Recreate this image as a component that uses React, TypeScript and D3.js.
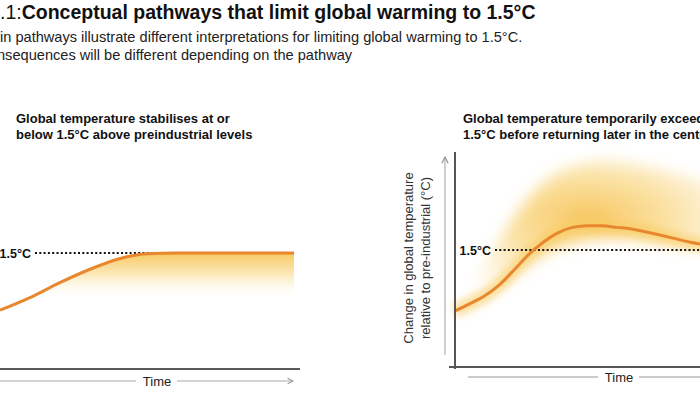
import React, { useEffect, useRef } from "react";
import * as d3 from "d3";

// headline + panel captions
const titlePrefix = ".1:";
const titleMain = "Conceptual pathways that limit global warming to 1.5°C";
const introLines = [
  "in pathways illustrate different interpretations for limiting global warming to 1.5°C.",
  "nsequences will be different depending on the pathway",
];
const leftCaption = ["Global temperature stabilises at or", "below 1.5°C above preindustrial levels"];
const rightCaption = ["Global temperature temporarily exceeds", "1.5°C before returning later in the century"];
const yAxisLabel = ["Change in global temperature", "relative to pre-industrial (°C)"];
const limitLabel = "1.5°C";
const timeLabel = "Time";
const limitTemp = 1.5;

// pathway 1: stabilises at 1.5
const stabiliseTimes = [0, 10, 20, 30, 40, 50, 60, 70, 80, 90, 100];
const stabiliseTemps = [0.76, 0.92, 1.11, 1.28, 1.42, 1.49, 1.5, 1.5, 1.5, 1.5, 1.5];
const stabiliseFloor = 0.93;

// pathway 2: overshoot then return
const overshootTimes = [0, 5, 10, 15, 20, 25, 30, 35, 40, 45, 50, 55, 60, 70, 80, 90, 100];
const overshootTemps = [0.72, 0.81, 0.91, 1.05, 1.24, 1.44, 1.6, 1.72, 1.79, 1.81, 1.81, 1.79, 1.77, 1.69, 1.6, 1.54, 1.5];
const glowTimes = [0, 10, 20, 30, 40, 50, 60, 70, 80, 90, 100];
const glowUpper = [0.74, 1.3, 1.95, 2.4, 2.6, 2.66, 2.62, 2.54, 2.44, 2.3, 2.16];
const glowLower = [0.68, 0.84, 1.1, 1.44, 1.6, 1.66, 1.64, 1.57, 1.5, 1.46, 1.43];

const ORANGE = "#E9872F";
const FONT = "'Liberation Sans', Arial, sans-serif";

export default function App() {
  const ref = useRef<SVGSVGElement>(null);

  useEffect(() => {
    if (!ref.current) return;
    const width = 700;
    const height = 394;
    const svg = d3.select(ref.current);
    svg.selectAll("*").remove();
    svg.attr("width", width).attr("height", height).style("font-family", FONT);

    const defs = svg.append("defs");
    const fillGrad = defs
      .append("linearGradient")
      .attr("id", "stabFill")
      .attr("gradientUnits", "userSpaceOnUse")
      .attr("x1", 0).attr("x2", 0).attr("y1", 253).attr("y2", 299);
    fillGrad.append("stop").attr("offset", 0).attr("stop-color", "#F7C24C").attr("stop-opacity", 0.9);
    fillGrad.append("stop").attr("offset", 0.45).attr("stop-color", "#FADD96").attr("stop-opacity", 0.7);
    fillGrad.append("stop").attr("offset", 1).attr("stop-color", "#ffffff").attr("stop-opacity", 0);

    // radial glow centred over the peak of the overshoot
    const glowGrad = defs
      .append("radialGradient")
      .attr("id", "glowFill")
      .attr("gradientUnits", "userSpaceOnUse")
      .attr("cx", 588).attr("cy", 218).attr("r", 200)
      .attr("gradientTransform", "translate(0,218) scale(1,0.5) translate(0,-218)");
    glowGrad.append("stop").attr("offset", 0).attr("stop-color", "#F6C050").attr("stop-opacity", 0.92);
    glowGrad.append("stop").attr("offset", 0.4).attr("stop-color", "#F9D782").attr("stop-opacity", 0.75);
    glowGrad.append("stop").attr("offset", 0.75).attr("stop-color", "#FDEBC4").attr("stop-opacity", 0.45);
    glowGrad.append("stop").attr("offset", 1).attr("stop-color", "#ffffff").attr("stop-opacity", 0);

    defs.append("filter").attr("id", "blur").attr("x", "-20%").attr("y", "-20%").attr("width", "140%").attr("height", "140%")
      .append("feGaussianBlur").attr("stdDeviation", 7);
    defs.append("filter").attr("id", "halo").attr("x", "-10%").attr("y", "-20%").attr("width", "120%").attr("height", "140%")
      .append("feGaussianBlur").attr("stdDeviation", 3.5);
    defs.append("marker").attr("id", "arrow").attr("viewBox", "0 0 8 8").attr("refX", 7).attr("refY", 4)
      .attr("markerWidth", 6).attr("markerHeight", 6).attr("orient", "auto")
      .append("path").attr("d", "M1,1 L7,4 L1,7").attr("fill", "none").attr("stroke", "#999").attr("stroke-width", 1.2);

    // headline
    const title = svg.append("text").attr("x", 0).attr("y", 19).attr("font-size", 19.5).attr("fill", "#111");
    title.append("tspan").text(titlePrefix);
    title.append("tspan").attr("font-weight", "bold").text(titleMain);
    introLines.forEach((t, i) => {
      svg.append("text").attr("x", i === 0 ? 0 : -3).attr("y", 42 + i * 17.5)
        .attr("font-size", 14.6).attr("fill", "#222").text(t);
    });

    const drawCaption = (lines: string[], x: number) => {
      lines.forEach((t, i) => {
        svg.append("text").attr("x", x).attr("y", 122.5 + i * 16).attr("font-size", 13)
          .attr("font-weight", "bold").attr("fill", "#111").text(t);
      });
    };
    drawCaption(leftCaption, 16);
    drawCaption(rightCaption, 463);

    const dotted = (x1: number, x2: number, y: number) =>
      svg.append("line").attr("x1", x1).attr("x2", x2).attr("y1", y).attr("y2", y)
        .attr("stroke", "#111").attr("stroke-width", 2.2).attr("stroke-dasharray", "2 2.3");
    const limitText = (x: number, y: number) =>
      svg.append("text").attr("x", x).attr("y", y + 4.5).attr("text-anchor", "end").attr("font-size", 12.5)
        .attr("font-weight", "bold").attr("fill", "#111").text(limitLabel);

    // ---- left panel ----
    const xL = d3.scaleLinear().domain([0, 100]).range([0, 294]);
    const yL = d3.scaleLinear().domain([0, limitTemp]).range([369, 253]);
    const stab = stabiliseTimes.map((t, i) => ({ t, v: stabiliseTemps[i] }));

    svg.append("path").datum(stab)
      .attr("fill", "url(#stabFill)")
      .attr("d", d3.area<{ t: number; v: number }>()
        .x((d) => xL(d.t))
        .y0((d) => yL(Math.min(stabiliseFloor, d.v)))
        .y1((d) => yL(d.v))
        .curve(d3.curveMonotoneX));
    dotted(35, 294, yL(limitTemp));
    limitText(31, yL(limitTemp));
    svg.append("path").datum(stab).attr("fill", "none").attr("stroke", ORANGE).attr("stroke-width", 3)
      .attr("d", d3.line<{ t: number; v: number }>().x((d) => xL(d.t)).y((d) => yL(d.v)).curve(d3.curveMonotoneX));

    svg.append("line").attr("x1", -5).attr("x2", 300).attr("y1", 369).attr("y2", 369).attr("stroke", "#222").attr("stroke-width", 1.6);
    svg.append("line").attr("x1", 0).attr("x2", 136).attr("y1", 381).attr("y2", 381).attr("stroke", "#aaa").attr("stroke-width", 1.2);
    svg.append("line").attr("x1", 177).attr("x2", 293).attr("y1", 381).attr("y2", 381).attr("stroke", "#aaa").attr("stroke-width", 1.2)
      .attr("marker-end", "url(#arrow)");
    svg.append("text").attr("x", 157).attr("y", 386).attr("text-anchor", "middle").attr("font-size", 13).attr("fill", "#222").text(timeLabel);

    // ---- right panel ----
    const xR = d3.scaleLinear().domain([0, 100]).range([455, 749]);
    const yR = d3.scaleLinear().domain([0, limitTemp]).range([367, 250]);
    const glow = glowTimes.map((t, i) => ({ t, hi: glowUpper[i], lo: glowLower[i] }));
    svg.append("path").datum(glow)
      .attr("fill", "url(#glowFill)")
      .attr("filter", "url(#blur)")
      .attr("d", d3.area<{ t: number; hi: number; lo: number }>()
        .x((d) => xR(d.t)).y0((d) => yR(d.lo)).y1((d) => yR(d.hi)).curve(d3.curveBasis));

    const over = overshootTimes.map((t, i) => ({ t, v: overshootTemps[i] }));
    const overLine = d3.line<{ t: number; v: number }>().x((d) => xR(d.t)).y((d) => yR(d.v)).curve(d3.curveMonotoneX);
    // soft halo hugging the curve
    svg.append("path").datum(over).attr("fill", "none").attr("stroke", "#F8CC60").attr("stroke-opacity", 0.6)
      .attr("stroke-width", 14).attr("filter", "url(#halo)").attr("d", overLine);

    dotted(495, 700, yR(limitTemp));
    limitText(491, yR(limitTemp));
    svg.append("path").datum(over).attr("fill", "none").attr("stroke", ORANGE).attr("stroke-width", 3).attr("d", overLine);

    svg.append("line").attr("x1", 455).attr("x2", 455).attr("y1", 152).attr("y2", 369).attr("stroke", "#555").attr("stroke-width", 2);
    svg.append("line").attr("x1", 449).attr("x2", 700).attr("y1", 367).attr("y2", 367).attr("stroke", "#555").attr("stroke-width", 2);
    svg.append("line").attr("x1", 445).attr("x2", 445).attr("y1", 355).attr("y2", 157).attr("stroke", "#bbb").attr("stroke-width", 1.4)
      .attr("marker-end", "url(#arrow)");
    svg.append("line").attr("x1", 468).attr("x2", 598).attr("y1", 377).attr("y2", 377).attr("stroke", "#bbb").attr("stroke-width", 1.4);
    svg.append("line").attr("x1", 639).attr("x2", 700).attr("y1", 377).attr("y2", 377).attr("stroke", "#bbb").attr("stroke-width", 1.4);
    svg.append("text").attr("x", 619).attr("y", 382).attr("text-anchor", "middle").attr("font-size", 13).attr("fill", "#222").text(timeLabel);

    yAxisLabel.forEach((t, i) => {
      svg.append("text").attr("transform", `translate(${413 + i * 17},258) rotate(-90)`)
        .attr("text-anchor", "middle").attr("font-size", 13).attr("fill", "#333").text(t);
    });
  }, []);

  return (
    <div style={{ position: "fixed", left: 0, top: 0, width: 700, height: 394, background: "#fff" }}>
      <svg ref={ref} style={{ display: "block" }} />
    </div>
  );
}
